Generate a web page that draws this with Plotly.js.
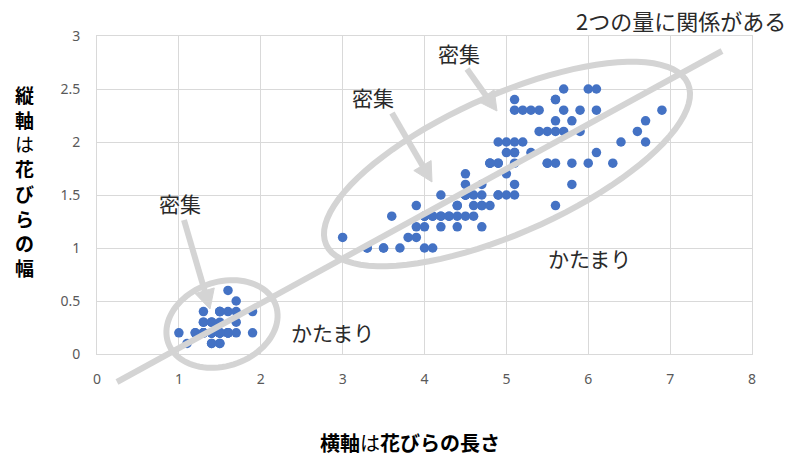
<!DOCTYPE html>
<html>
<head>
<meta charset="utf-8">
<script src="https://cdn.plot.ly/plotly-3.0.1.min.js"></script>
<style>html,body{margin:0;padding:0;background:#fff;}#chart{width:800px;height:457px;}</style>
</head>
<body>
<div id="chart"></div>
<script>
// Petal length (x) and petal width (y)
const petalLength = [
1.4,1.4,1.3,1.5,1.4,1.7,1.4,1.5,1.4,1.5,1.5,1.6,1.4,1.1,1.2,1.5,1.3,1.4,1.7,1.5,
1.7,1.5,1.0,1.7,1.9,1.6,1.6,1.5,1.4,1.6,1.6,1.5,1.5,1.4,1.5,1.2,1.3,1.4,1.3,1.5,
1.3,1.3,1.3,1.6,1.9,1.4,1.6,1.4,1.5,1.4,
4.7,4.5,4.9,4.0,4.6,4.5,4.7,3.3,4.6,3.9,3.5,4.2,4.0,4.7,3.6,4.4,4.5,4.1,4.5,3.9,
4.8,4.0,4.9,4.7,4.3,4.4,4.8,5.0,4.5,3.5,3.8,3.7,3.9,5.1,4.5,4.5,4.7,4.4,4.1,4.0,
4.4,4.6,4.0,3.3,4.2,4.2,4.2,4.3,3.0,4.1,
6.0,5.1,5.9,5.6,5.8,6.6,4.5,6.3,5.8,6.1,5.1,5.3,5.5,5.0,5.1,5.3,5.5,6.7,6.9,5.0,
5.7,4.9,6.7,4.9,5.7,6.0,4.8,4.9,5.6,5.8,6.1,6.4,5.6,5.1,5.6,6.1,5.6,5.5,4.8,5.4,
5.6,5.1,5.1,5.9,5.7,5.2,5.0,5.2,5.4,5.1];
const petalWidth = [
0.2,0.2,0.2,0.2,0.2,0.4,0.3,0.2,0.2,0.1,0.2,0.2,0.1,0.1,0.2,0.4,0.4,0.3,0.3,0.3,
0.2,0.4,0.2,0.5,0.2,0.2,0.4,0.2,0.2,0.2,0.2,0.4,0.1,0.2,0.2,0.2,0.2,0.1,0.2,0.2,
0.3,0.3,0.2,0.6,0.4,0.3,0.2,0.2,0.2,0.2,
1.4,1.5,1.5,1.3,1.5,1.3,1.6,1.0,1.3,1.4,1.0,1.5,1.0,1.4,1.3,1.4,1.5,1.0,1.5,1.1,
1.8,1.3,1.5,1.2,1.3,1.4,1.4,1.7,1.5,1.0,1.1,1.0,1.2,1.6,1.5,1.6,1.5,1.3,1.3,1.3,
1.2,1.4,1.2,1.0,1.3,1.2,1.3,1.3,1.1,1.3,
2.5,1.9,2.1,1.8,2.2,2.1,1.7,1.8,1.8,2.5,2.0,1.9,2.1,2.0,2.4,2.3,1.8,2.2,2.3,1.5,
2.3,2.0,2.0,1.8,2.1,1.8,1.8,1.8,2.1,1.6,1.9,2.0,2.2,1.5,1.4,2.3,2.4,1.8,1.8,2.1,
2.4,2.3,1.9,2.3,2.5,2.3,1.9,2.0,2.3,1.8];
const xTickVals = [0,1,2,3,4,5,6,7,8];
const yTickVals = [0,0.5,1,1.5,2,2.5,3];
const yTickText = ['0','0.5','1','1.5','2','2.5','3'];
const xTitle = '<b>横軸</b>は<b>花びらの長さ</b>';
const yTitle = '<b>縦</b><br><b>軸</b><br>は<br><b>花</b><br><b>び</b><br><b>ら</b><br><b>の</b><br><b>幅</b>';
const noteTexts = ['密集','密集','密集','かたまり','かたまり','2つの量に関係がある'];

// ---- layout geometry (pixels) ----
const WIDTH = 800, HEIGHT = 457;
const M = {l:97, r:48, t:36, b:103};
const PW = WIDTH - M.l - M.r, PH = HEIGHT - M.t - M.b;
const PX = px => (px - M.l) / PW;
const PY = py => (HEIGHT - M.b - py) / PH;
const GRAY = '#D4D4D4';
const TXT = '#2a2a2a';
const JP = '"Noto Sans CJK JP", "Noto Sans", sans-serif';

function ellipsePath(cx, cy, a, b, phiDeg){
  const phi = phiDeg * Math.PI / 180;
  let s = '';
  const N = 90;
  for (let i = 0; i <= N; i++){
    const t = 2*Math.PI*i/N;
    const x = cx + a*Math.cos(phi)*Math.cos(t) - b*Math.sin(phi)*Math.sin(t);
    const y = cy - (a*Math.sin(phi)*Math.cos(t) + b*Math.cos(phi)*Math.sin(t));
    s += (i ? 'L' : 'M') + PX(x).toFixed(5) + ',' + PY(y).toFixed(5);
  }
  return s + 'Z';
}
function arrowShapes(x0, y0, x1, y1){
  const dx = x1-x0, dy = y1-y0, len = Math.hypot(dx,dy);
  const ux = dx/len, uy = dy/len, nx = -uy, ny = ux;
  const hl = 19, hw = 10;
  const bx = x1 - ux*hl, by = y1 - uy*hl;
  return [
    {type:'line', xref:'paper', yref:'paper', x0:PX(x0), y0:PY(y0), x1:PX(bx+ux*2), y1:PY(by+uy*2),
     line:{color:GRAY, width:6}, layer:'above'},
    {type:'path', xref:'paper', yref:'paper',
     path:'M'+PX(x1)+','+PY(y1)+'L'+PX(bx+nx*hw)+','+PY(by+ny*hw)+'L'+PX(bx-nx*hw)+','+PY(by-ny*hw)+'Z',
     fillcolor:GRAY, line:{color:GRAY, width:1}, layer:'above'}
  ];
}

const shapes = [
  {type:'line', xref:'paper', yref:'paper', x0:PX(117), y0:PY(382), x1:PX(722), y1:PY(51),
   line:{color:GRAY, width:6}, layer:'above'},
  {type:'path', xref:'paper', yref:'paper', path:ellipsePath(222, 324, 57, 42, 19),
   line:{color:GRAY, width:6}, layer:'above'},
  {type:'path', xref:'paper', yref:'paper', path:ellipsePath(507, 164, 198, 69, 24),
   line:{color:GRAY, width:6}, layer:'above'},
  ...arrowShapes(184, 220, 210, 309),
  ...arrowShapes(392, 113, 432, 182),
  ...arrowShapes(467, 69, 497, 111)
];

const notePos = [[180,203],[373,97],[459,53],[332,332],[589,258],[681,20]];
const annotations = noteTexts.map((t,i) => ({
  text:t, xref:'paper', yref:'paper', x:PX(notePos[i][0]), y:PY(notePos[i][1]),
  xanchor:'center', yanchor:'middle', showarrow:false,
  font:{family:JP, size: i===5 ? 22 : 21, color:TXT}
}));
annotations.push({
  text:yTitle, xref:'paper', yref:'paper', x:PX(24), y:PY(181),
  xanchor:'center', yanchor:'middle', showarrow:false,
  font:{family:JP, size:19, color:'#000'}
});
annotations.push({
  text:xTitle, xref:'paper', yref:'paper', x:PX(410), y:PY(442),
  xanchor:'center', yanchor:'middle', showarrow:false,
  font:{family:JP, size:20, color:'#000'}
});

const trace = {
  type:'scatter', mode:'markers', x:petalLength, y:petalWidth,
  marker:{color:'#4472C4', size:9.5}, hoverinfo:'x+y'
};

const axisCommon = {
  showgrid:true, gridcolor:'#D9D9D9', gridwidth:1,
  showline:true, mirror:true, linecolor:'#D9D9D9', linewidth:1,
  zeroline:false, ticks:'', fixedrange:true,
  tickfont:{family:'"Noto Sans", "Open Sans", sans-serif', size:14, color:'#595959'}
};
const layout = {
  width:WIDTH, height:HEIGHT, margin:M,
  paper_bgcolor:'#fff', plot_bgcolor:'#fff', showlegend:false,
  xaxis:Object.assign({}, axisCommon, {range:[0,8], tickmode:'array', tickvals:xTickVals, ticklabelstandoff:12}),
  yaxis:Object.assign({}, axisCommon, {range:[0,3], tickmode:'array', tickvals:yTickVals, ticktext:yTickText, ticklabelstandoff:13}),
  shapes:shapes, annotations:annotations
};
Plotly.newPlot('chart', [trace], layout, {displayModeBar:false, staticPlot:true});
</script>
</body>
</html>
